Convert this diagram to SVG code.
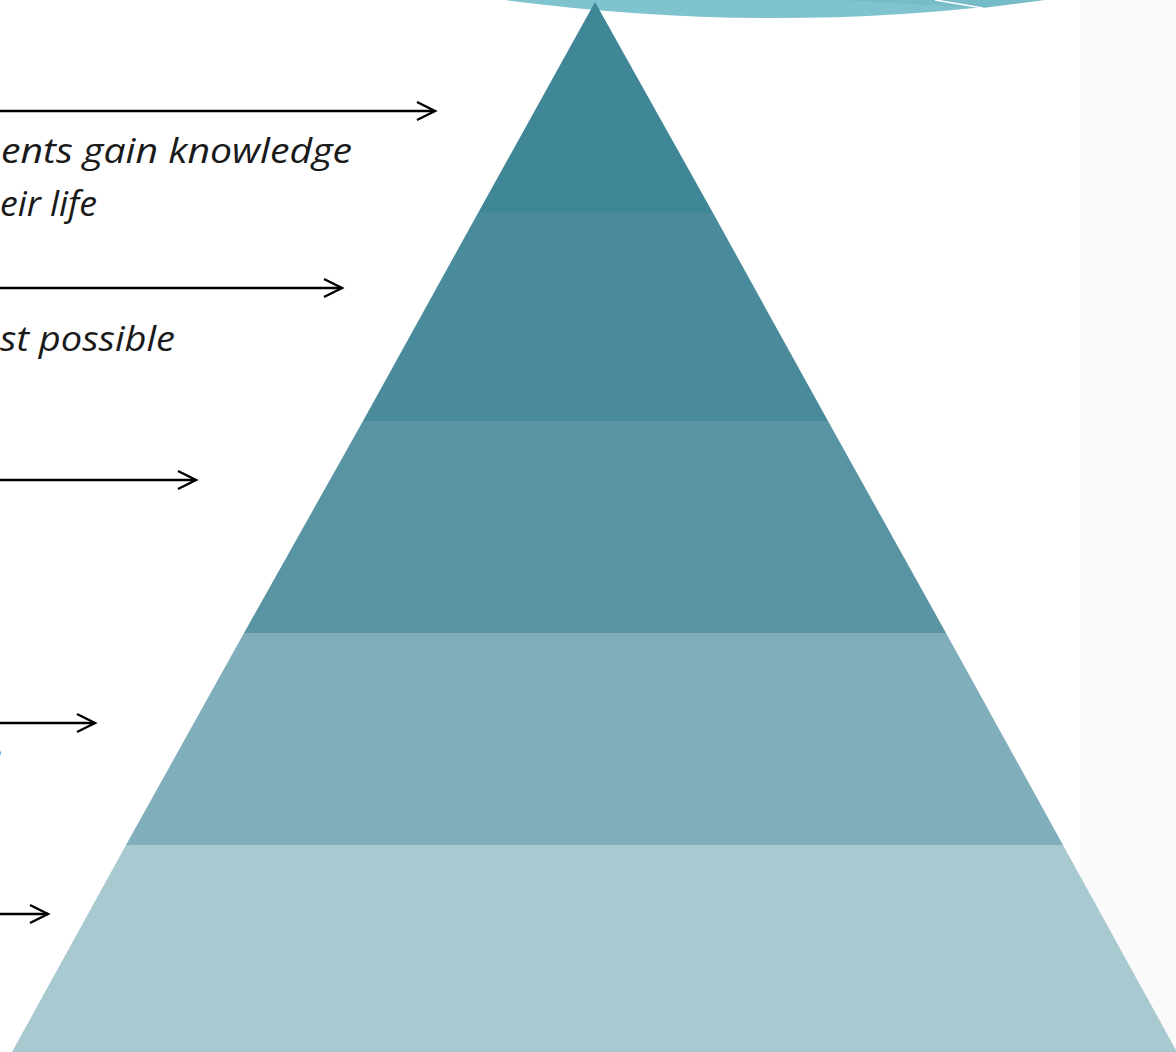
<svg xmlns="http://www.w3.org/2000/svg" width="1176" height="1052" viewBox="0 0 1176 1052">
<style>
.lbl{font-family:"Open Sans","Noto Sans",sans-serif;font-style:italic;font-size:35px;fill:#1a1a1a;text-anchor:start}
.con{stroke:#000;stroke-width:2.4;fill:none}
</style>
<defs>
<marker id="chev" markerUnits="userSpaceOnUse" markerWidth="24" markerHeight="24" viewBox="-20 -12 24 24" refX="0" refY="0" orient="auto">
<polyline points="-18,-9 0,0 -18,9" fill="none" stroke="#000" stroke-width="2.4"/>
</marker>
</defs>
<rect width="1176" height="1052" fill="#ffffff"/>
<rect id="side-panel" x="1080" y="0" width="96" height="1052" fill="#fafafa"/>
<g id="top-ellipse">
<path d="M505,0 Q780,36 1040,0 Z" fill="#7fc3cf"/>
<path d="M840,0 L983,8 L1045,0 Z" fill="#75bbc8"/>
<line x1="935" y1="0" x2="983" y2="8" stroke="#ffffff" stroke-width="1.5"/>
</g>
<g id="pyramid">
<polygon id="level1" points="595,2 478,213 713,213" fill="#3f8696"/>
<polygon id="level2" points="478,213 713,213 828,421 363,421" fill="#4a8b9b"/>
<polygon id="level3" points="363,421 828,421 946,633 244,633" fill="#5994a3"/>
<polygon id="level4" points="244,633 946,633 1063,845 126,845" fill="#80aebb"/>
<polygon id="level5" points="126,845 1063,845 1177,1052 12,1052" fill="#a9c9d1"/>
</g>
<g id="labels">
<text class="lbl" x="1" y="163" textLength="351" lengthAdjust="spacingAndGlyphs">ents gain knowledge</text>
<text class="lbl" x="0" y="216" textLength="97" lengthAdjust="spacingAndGlyphs">eir life</text>
<text class="lbl" x="0" y="351" textLength="175" lengthAdjust="spacingAndGlyphs">st possible</text>
<text class="lbl" x="-16" y="768">e</text>
</g>
<g id="connectors">
<line class="con" x1="0" y1="111" x2="435" y2="111" marker-end="url(#chev)"/>
<line class="con" x1="0" y1="288" x2="342" y2="288" marker-end="url(#chev)"/>
<line class="con" x1="0" y1="480" x2="196" y2="480" marker-end="url(#chev)"/>
<line class="con" x1="0" y1="723" x2="95" y2="723" marker-end="url(#chev)"/>
<line class="con" x1="0" y1="914" x2="48" y2="914" marker-end="url(#chev)"/>
</g>
</svg>
